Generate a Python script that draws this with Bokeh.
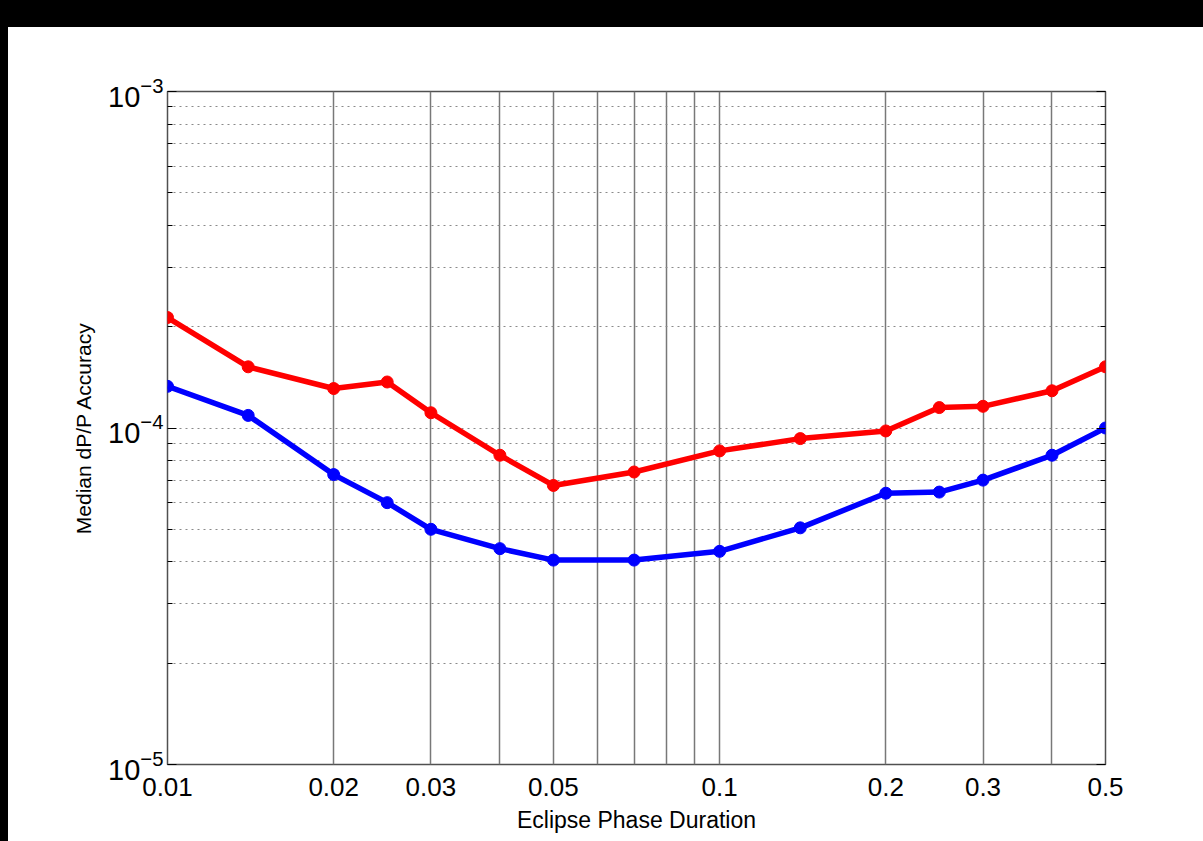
from bokeh.plotting import figure
from bokeh.models import (FixedTicker, CustomJSTickFormatter, LogTickFormatter,
                          LogAxis, Spacer)
from bokeh.layouts import column, row
from bokeh.embed import file_html
from bokeh.resources import INLINE

# Eclipse phase duration (fraction of period) and median dP/P accuracy
duration = [0.01, 0.014, 0.02, 0.025, 0.03, 0.04, 0.05, 0.07, 0.1, 0.14,
            0.2, 0.25, 0.3, 0.4, 0.5]
accuracy_red = [2.13e-4, 1.52e-4, 1.31e-4, 1.37e-4, 1.11e-4, 8.3e-5, 6.75e-5,
                7.4e-5, 8.55e-5, 9.3e-5, 9.8e-5, 1.15e-4, 1.16e-4, 1.29e-4,
                1.52e-4]
accuracy_blue = [1.33e-4, 1.09e-4, 7.27e-5, 6.0e-5, 5.0e-5, 4.38e-5, 4.05e-5,
                 4.05e-5, 4.3e-5, 5.05e-5, 6.4e-5, 6.45e-5, 7.0e-5, 8.3e-5,
                 1.0e-4]

x_ticks = [0.01, 0.02, 0.03, 0.05, 0.1, 0.2, 0.3, 0.5]
x_grid = [0.02, 0.03, 0.04, 0.05, 0.06, 0.07, 0.08, 0.09, 0.1, 0.2, 0.3, 0.4]
y_major = [1e-5, 1e-4, 1e-3]
y_minor = [m * 10.0 ** e for e in (-5, -4) for m in range(2, 10)]

FONT = "Liberation Sans"

p = figure(width=1195, height=814, x_axis_type="log", y_axis_type="log",
           x_range=(0.01, 0.5), y_range=(1e-5, 1e-3),
           output_backend="svg", toolbar_location=None,
           min_border_left=159, min_border_right=98,
           min_border_top=64, min_border_bottom=77)
p.background_fill_color = "white"
p.border_fill_color = "white"
p.outline_line_color = "#505050"
p.outline_line_width = 1.5

# x axis
xa = p.xaxis[0]
xa.ticker = FixedTicker(ticks=x_ticks, minor_ticks=[])
xa.formatter = CustomJSTickFormatter(code="return tick.toString();")
xa.major_tick_in = 0
xa.major_tick_out = 0
xa.axis_line_color = None
xa.major_label_text_font = FONT
xa.major_label_text_font_size = "26px"
xa.major_label_text_color = "black"
xa.major_label_standoff = 13
xa.axis_label = "Eclipse Phase Duration"
xa.axis_label_text_font = FONT
xa.axis_label_text_font_size = "23px"
xa.axis_label_text_font_style = "normal"
xa.axis_label_text_color = "black"
xa.axis_label_standoff = 8

# y axis: powers of ten
ya = p.yaxis[0]
ya.ticker = FixedTicker(ticks=y_major, minor_ticks=y_minor)
ya.formatter = LogTickFormatter()
ya.major_label_text_font = FONT
ya.major_label_text_font_size = "29px"
ya.major_label_text_color = "black"
ya.major_label_standoff = 4
ya.major_tick_in = 9
ya.major_tick_out = 0
ya.minor_tick_in = 5
ya.minor_tick_out = 0
ya.major_tick_line_color = "black"
ya.minor_tick_line_color = "black"
ya.axis_line_color = None
ya.axis_label = "Median dP/P Accuracy"
ya.axis_label_text_font = FONT
ya.axis_label_text_font_size = "21px"
ya.axis_label_text_font_style = "normal"
ya.axis_label_text_color = "black"
ya.axis_label_standoff = 10

ra = LogAxis(ticker=FixedTicker(ticks=y_major, minor_ticks=y_minor),
             formatter=CustomJSTickFormatter(code="return '';"),
             major_tick_in=9, major_tick_out=0, minor_tick_in=5,
             minor_tick_out=0, axis_line_color=None)
p.add_layout(ra, "right")

# grids: solid vertical lines, dotted horizontal lines
p.xgrid.ticker = FixedTicker(ticks=x_grid, minor_ticks=[])
p.xgrid.grid_line_color = "#787878"
p.xgrid.grid_line_width = 1.5
p.ygrid.grid_line_color = "#8a8a8a"
p.ygrid.grid_line_dash = "2 4"
p.ygrid.grid_line_width = 1
p.ygrid.minor_grid_line_color = "#8a8a8a"
p.ygrid.minor_grid_line_dash = "2 4"
p.ygrid.minor_grid_line_width = 1

# series
for vals, col in ((accuracy_red, "#ff0000"), (accuracy_blue, "#0000ff")):
    p.line(duration, vals, line_color=col, line_width=5.5)
    p.scatter(duration, vals, size=12, fill_color=col, line_color=col)

top_band = Spacer(width=1203, height=27, styles={"background-color": "black"})
left_band = Spacer(width=8, height=814, styles={"background-color": "black"})
layout = column(top_band, row(left_band, p, spacing=0), spacing=0)

open("out.html", "w").write(file_html(layout, INLINE))
